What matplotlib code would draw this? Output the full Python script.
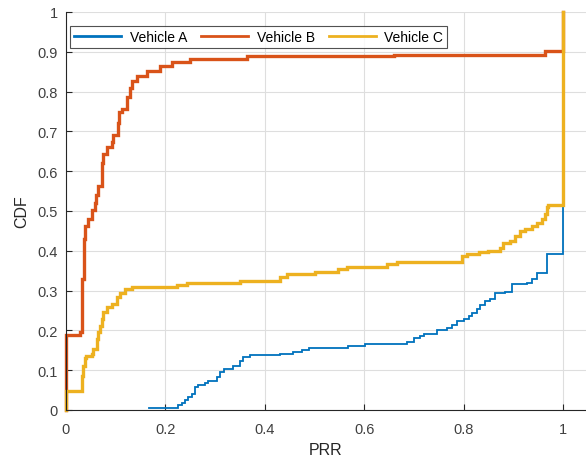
import numpy as np
import matplotlib
matplotlib.use("Agg")
import matplotlib.pyplot as plt

plt.rcParams["font.family"] = ["Liberation Sans", "DejaVu Sans"]

# empirical CDF breakpoints (PRR, CDF after the step)
veh_a_prr = [0.166, 0.223, 0.226, 0.233, 0.239, 0.246, 0.253, 0.26, 0.266, 0.28,
             0.286, 0.303, 0.31, 0.317, 0.337, 0.35, 0.357, 0.37, 0.43, 0.457,
             0.474, 0.488, 0.568, 0.602, 0.686, 0.70, 0.712, 0.72, 0.746, 0.766,
             0.776, 0.786, 0.80, 0.81, 0.816, 0.826, 0.833, 0.843, 0.853, 0.863,
             0.883, 0.897, 0.927, 0.937, 0.947, 0.967, 1.0, 1.0]
veh_a_cdf = [0.004, 0.004, 0.013, 0.018, 0.026, 0.032, 0.040, 0.057, 0.063, 0.069,
             0.074, 0.082, 0.095, 0.103, 0.110, 0.124, 0.132, 0.138, 0.141, 0.145,
             0.152, 0.157, 0.160, 0.166, 0.170, 0.180, 0.185, 0.190, 0.200, 0.205,
             0.213, 0.224, 0.229, 0.237, 0.244, 0.254, 0.264, 0.275, 0.280, 0.295,
             0.297, 0.317, 0.320, 0.329, 0.344, 0.392, 0.392, 1.0]

veh_b_prr = [0.0, 0.0, 0.028, 0.033, 0.036, 0.036, 0.038, 0.045, 0.052, 0.058,
             0.060, 0.065, 0.072, 0.072, 0.075, 0.083, 0.092, 0.095, 0.105, 0.107,
             0.112, 0.122, 0.129, 0.132, 0.142, 0.163, 0.19, 0.213, 0.25, 0.364,
             0.66, 0.964, 1.0, 1.0]
veh_b_cdf = [0.0, 0.188, 0.195, 0.33, 0.35, 0.43, 0.463, 0.48, 0.503, 0.52,
             0.54, 0.563, 0.60, 0.62, 0.643, 0.66, 0.673, 0.69, 0.72, 0.75,
             0.756, 0.786, 0.81, 0.827, 0.84, 0.853, 0.865, 0.875, 0.881, 0.889,
             0.893, 0.903, 0.903, 1.0]

veh_c_prr = [0.0, 0.0, 0.032, 0.034, 0.038, 0.040, 0.042, 0.052, 0.055, 0.062,
             0.065, 0.068, 0.072, 0.075, 0.082, 0.092, 0.102, 0.109, 0.119, 0.132,
             0.223, 0.243, 0.35, 0.43, 0.444, 0.50, 0.548, 0.565, 0.645, 0.665,
             0.796, 0.806, 0.83, 0.85, 0.873, 0.88, 0.893, 0.903, 0.913, 0.924,
             0.937, 0.947, 0.957, 0.964, 0.967, 0.97, 1.0, 1.0]
veh_c_cdf = [0.0, 0.048, 0.086, 0.11, 0.13, 0.136, 0.136, 0.14, 0.153, 0.178,
             0.195, 0.212, 0.229, 0.245, 0.258, 0.266, 0.283, 0.295, 0.304, 0.31,
             0.314, 0.319, 0.325, 0.333, 0.342, 0.347, 0.354, 0.36, 0.367, 0.373,
             0.388, 0.392, 0.396, 0.40, 0.408, 0.42, 0.425, 0.438, 0.45, 0.456,
             0.463, 0.471, 0.48, 0.492, 0.509, 0.515, 0.515, 1.0]

labels = ["Vehicle A", "Vehicle B", "Vehicle C"]
colors = ["#0072BD", "#D95319", "#EDB120"]
widths = [1.3, 2.4, 2.4]

fig = plt.figure(figsize=(5.86, 4.6), dpi=100)
ax = fig.add_axes([66 / 586, 1 - 411 / 460, 1 - 66 / 586, 398 / 460])

series = [(veh_a_prr, veh_a_cdf), (veh_b_prr, veh_b_cdf), (veh_c_prr, veh_c_cdf)]
for (x, y), lab, c, lw in zip(series, labels, colors, widths):
    ax.step(x, y, where="post", color=c, lw=lw, label=lab, clip_on=False,
            solid_joinstyle="miter")

ax.set_xlim(0, 520 / 497)
ax.set_ylim(0, 1)
ax.set_xticks(np.arange(0, 1.01, 0.2))
ax.set_xticklabels(["0", "0.2", "0.4", "0.6", "0.8", "1"])
ax.set_yticks(np.arange(0, 1.01, 0.1))
ax.set_yticklabels(["0"] + [f"{v:.1f}" for v in np.arange(0.1, 0.95, 0.1)] + ["1"])

ax.grid(True, color="#dedede", lw=0.8)
ax.set_axisbelow(True)
for s in ["top", "right"]:
    ax.spines[s].set_visible(False)
for s in ["left", "bottom"]:
    ax.spines[s].set_color("#262626")
    ax.spines[s].set_linewidth(0.8)
ax.tick_params(direction="in", length=4, width=0.8, colors="#262626",
               labelsize=10.5, labelcolor="#404040")
ax.tick_params(axis="x", pad=9)
ax.tick_params(axis="y", pad=6)

ax.set_xlabel("PRR", fontsize=11.5, color="#262626", labelpad=4)
ax.set_ylabel("CDF", fontsize=11.5, color="#262626", labelpad=6)

leg = ax.legend(loc="upper left", ncol=3, fontsize=10, frameon=True, fancybox=False,
                bbox_to_anchor=(4 / 520, 1 - 14 / 398), borderaxespad=0,
                handlelength=3.4, columnspacing=1.0, handletextpad=0.6,
                borderpad=0.3)
leg.get_frame().set_edgecolor("#262626")
leg.get_frame().set_linewidth(0.8)
for h in leg.get_lines():
    h.set_linewidth(2.0)

fig.savefig("out.png", dpi=100)
